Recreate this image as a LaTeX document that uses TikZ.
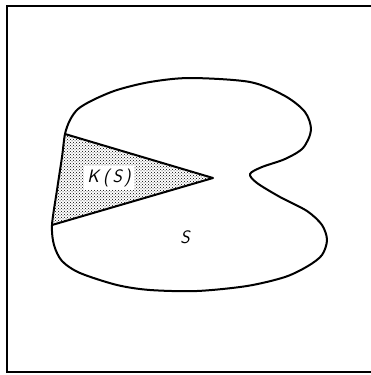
\documentclass[tikz,border=0pt]{standalone}
\usepackage{tikz}
\usetikzlibrary{patterns}
\tikzset{
  frame/.style={draw,line width=1.4pt},
  boundary/.style={draw,line width=2pt,line join=round},
  cone/.style={pattern=crosshatch dots,pattern color=black},
  lbl/.style={font=\fontsize{18}{21}\selectfont\sffamily\itshape,inner sep=3pt}
}

\begin{document}
\begin{tikzpicture}[x=1pt,y=-1pt]
\useasboundingbox (0,0) rectangle (371,375);
\draw[frame] (371,6) -- (7,6) -- (7,372) -- (371,372);
\coordinate (upper) at (65,134);
\coordinate (apex) at (213,178);
\coordinate (lower) at (52,225);
\fill[cone] (upper) -- (apex) -- (lower) -- cycle;
\draw[boundary] (upper) -- (apex) -- (lower);
\draw[boundary] plot[smooth cycle] coordinates {
  (upper) (70,120) (78,109) (93,100) (117,90) (150,82) (190,78) (250,82)
  (285,96) (305,112) (311,130) (303,148) (285,159) (262,167) (250,174)
  (257,183) (280,197) (307,211) (322,225) (327,240) (322,255) (308,266)
  (285,277) (247,286) (197,291) (150,290) (117,285) (80,273) (62,261)
  (54,245) (lower) (57,190) (62,157)};
\node[lbl,fill=white] (ks) at (109,178) {K\kern4pt(\kern3pt S\kern2pt)};
\node[lbl] (s) at (185,237) {S};
\end{tikzpicture}
\end{document}
